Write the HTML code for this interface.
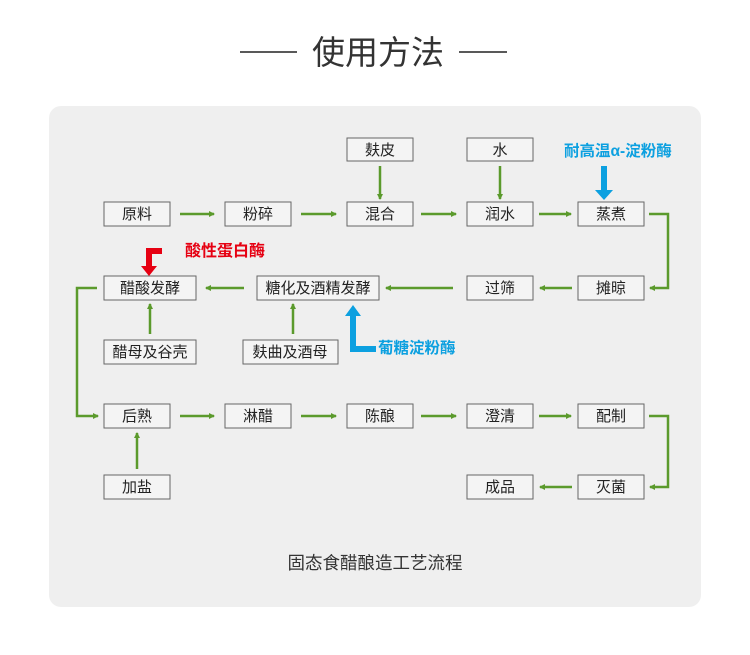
<!DOCTYPE html>
<html><head><meta charset="utf-8"><style>
html,body{margin:0;padding:0;background:#fff;}
svg{display:block;}
text{font-family:"Liberation Sans","Noto Sans CJK SC",sans-serif;}
</style></head><body>
<svg width="750" height="655" viewBox="0 0 750 655" xmlns="http://www.w3.org/2000/svg">
<defs>
<marker id="a" markerWidth="6" markerHeight="6" refX="5" refY="3" orient="auto" markerUnits="userSpaceOnUse"><path d="M0,0 L6,3 L0,6 z" fill="#5b9a2c"/></marker>
</defs>
<rect width="750" height="655" fill="#fff"/>
<line x1="240" y1="52" x2="297" y2="52" stroke="#222" stroke-width="1.5"/>
<line x1="459" y1="52" x2="507" y2="52" stroke="#222" stroke-width="1.5"/>
<text x="378" y="64" font-size="33" fill="#333" text-anchor="middle">使用方法</text>
<rect x="49" y="106" width="652" height="501" rx="12" fill="#efefef"/>
<g fill="#f4f4f4" stroke="#666" stroke-width="1">
<rect x="104" y="202" width="66" height="24"/><rect x="225" y="202" width="66" height="24"/>
<rect x="347" y="202" width="66" height="24"/><rect x="467" y="202" width="66" height="24"/>
<rect x="578" y="202" width="66" height="24"/>
<rect x="347" y="138" width="66" height="23"/><rect x="467" y="138" width="66" height="23"/>
<rect x="104" y="276" width="92" height="24"/><rect x="257" y="276" width="122" height="24"/>
<rect x="467" y="276" width="66" height="24"/><rect x="578" y="276" width="66" height="24"/>
<rect x="104" y="340" width="92" height="24"/><rect x="243" y="340" width="95" height="24"/>
<rect x="104" y="404" width="66" height="24"/><rect x="225" y="404" width="66" height="24"/>
<rect x="347" y="404" width="66" height="24"/><rect x="467" y="404" width="66" height="24"/>
<rect x="578" y="404" width="66" height="24"/>
<rect x="104" y="475" width="66" height="24"/><rect x="467" y="475" width="66" height="24"/>
<rect x="578" y="475" width="66" height="24"/>
</g>
<g font-size="15" fill="#222" text-anchor="middle">
<text x="137" y="219">原料</text><text x="258" y="219">粉碎</text><text x="380" y="219">混合</text>
<text x="500" y="219">润水</text><text x="611" y="219">蒸煮</text>
<text x="380" y="155">麸皮</text><text x="500" y="155">水</text>
<text x="150" y="293">醋酸发酵</text><text x="318" y="293">糖化及酒精发酵</text>
<text x="500" y="293">过筛</text><text x="611" y="293">摊晾</text>
<text x="150" y="357">醋母及谷壳</text><text x="290" y="357">麸曲及酒母</text>
<text x="137" y="421">后熟</text><text x="258" y="421">淋醋</text><text x="380" y="421">陈酿</text>
<text x="500" y="421">澄清</text><text x="611" y="421">配制</text>
<text x="137" y="492">加盐</text><text x="500" y="492">成品</text><text x="611" y="492">灭菌</text>
</g>
<g stroke="#5b9a2c" stroke-width="2.5" fill="none" marker-end="url(#a)">
<line x1="180" y1="214" x2="214" y2="214"/><line x1="301" y1="214" x2="336" y2="214"/>
<line x1="421" y1="214" x2="456" y2="214"/><line x1="539" y1="214" x2="571" y2="214"/>
<line x1="380" y1="166" x2="380" y2="199"/><line x1="500" y1="166" x2="500" y2="199"/>
<polyline points="649,214 668,214 668,288 650,288"/>
<line x1="572" y1="288" x2="540" y2="288"/><line x1="453" y1="288" x2="386" y2="288"/>
<line x1="244" y1="288" x2="206" y2="288"/>
<line x1="150" y1="334" x2="150" y2="304"/><line x1="293" y1="334" x2="293" y2="304"/>
<polyline points="97,288 77,288 77,416 98,416"/>
<line x1="180" y1="416" x2="214" y2="416"/><line x1="301" y1="416" x2="336" y2="416"/>
<line x1="421" y1="416" x2="456" y2="416"/><line x1="539" y1="416" x2="571" y2="416"/>
<polyline points="649,416 668,416 668,487 650,487"/>
<line x1="572" y1="487" x2="540" y2="487"/>
<line x1="137" y1="469" x2="137" y2="433"/>
</g>
<path d="M162,248 L146,248 L146,266 L141,266 L149,276 L157,266 L152,266 L152,254 L162,254 z" fill="#e60012"/>
<text x="185" y="256" font-size="16" font-weight="bold" fill="#e60012">酸性蛋白酶</text>
<path d="M601,166 L607,166 L607,190 L613,190 L604,200 L595,190 L601,190 z" fill="#0ca0e0"/>
<text x="564" y="156" font-size="15.5" font-weight="bold" fill="#0ca0e0">耐高温α-淀粉酶</text>
<path d="M376,352 L350,352 L350,316 L345,316 L353,305 L361,316 L356,316 L356,346 L376,346 z" fill="#0ca0e0"/>
<text x="378" y="353" font-size="15.5" font-weight="bold" fill="#0ca0e0">葡糖淀粉酶</text>
<text x="375" y="569" font-size="17.5" fill="#333" text-anchor="middle">固态食醋酿造工艺流程</text>
</svg>
</body></html>
